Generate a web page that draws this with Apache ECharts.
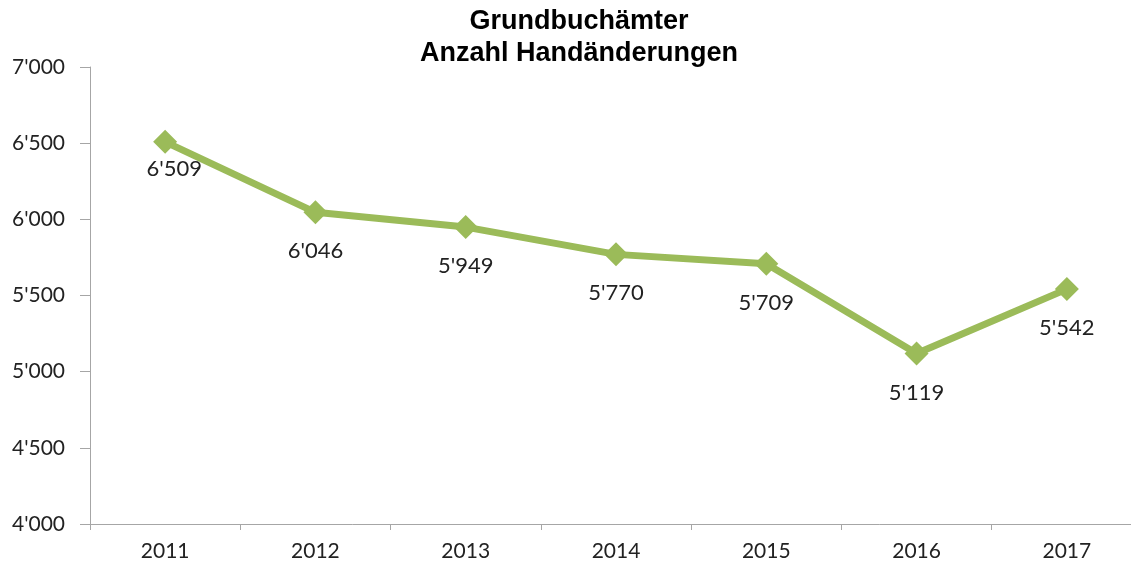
<!DOCTYPE html>
<html>
<head>
<meta charset="utf-8">
<script src="https://cdn.jsdelivr.net/npm/echarts@6/dist/echarts.min.js"></script>
<style>
  html, body { margin: 0; padding: 0; background: #fff; overflow: hidden; }
  /* Zeichenfläche ragt im Original etwas über den rechten Rand hinaus */
  #chart { width: 1142px; height: 567px; }
</style>
</head>
<body>
<div id="chart"></div>
<script>
var years = ['2011', '2012', '2013', '2014', '2015', '2016', '2017'];
var handaenderungen = [6509, 6046, 5949, 5770, 5709, 5119, 5542];

// Tausendertrennzeichen mit Apostroph
function fmt(v) {
    return String(Math.round(v)).replace(/\B(?=(\d{3})+(?!\d))/g, "'");
}

// erstes Label sitzt im Original etwas näher und nach rechts verschoben
var seriesData = handaenderungen.map(function (v, i) {
    if (i === 0) {
        return { value: v, label: { offset: [9, -12] } };
    }
    return v;
});

var myChart = echarts.init(document.getElementById('chart'));
var option = {
    backgroundColor: '#fff',
    animation: false,
    title: {
        text: 'Grundbuchämter\nAnzahl Handänderungen',
        left: 574,
        top: 1,
        textAlign: 'center',
        textStyle: {
            fontFamily: 'Liberation Sans',
            fontWeight: 'bold',
            fontSize: 27,
            lineHeight: 32,
            color: '#000'
        }
    },
    grid: { left: 90, right: 0, top: 67, bottom: 43 },
    xAxis: {
        type: 'category',
        data: years,
        boundaryGap: true,
        axisLine: { lineStyle: { color: '#a6a6a6', width: 1 } },
        axisTick: { show: true, length: 6, lineStyle: { color: '#a6a6a6' } },
        axisLabel: { margin: 17, fontSize: 21, color: '#222', fontFamily: 'Lato' }
    },
    yAxis: {
        type: 'value',
        min: 4000,
        max: 7000,
        interval: 500,
        splitLine: { show: false },
        axisLine: { show: true, lineStyle: { color: '#a6a6a6', width: 1 } },
        axisTick: { show: true, length: 10, lineStyle: { color: '#a6a6a6' } },
        axisLabel: {
            margin: 25, fontSize: 21, color: '#222', fontFamily: 'Lato',
            formatter: fmt
        }
    },
    series: [{
        type: 'line',
        data: seriesData,
        symbol: 'diamond',
        symbolSize: 24,
        lineStyle: { color: '#9bbb59', width: 7 },
        itemStyle: { color: '#9bbb59' },
        label: {
            show: true,
            position: 'bottom',
            distance: 16,
            fontSize: 22,
            color: '#222',
            fontFamily: 'Lato',
            formatter: function (p) { return fmt(p.value); }
        }
    }]
};
myChart.setOption(option);
window.addEventListener('resize', function () {
    myChart.resize();
});
</script>
</body>
</html>
